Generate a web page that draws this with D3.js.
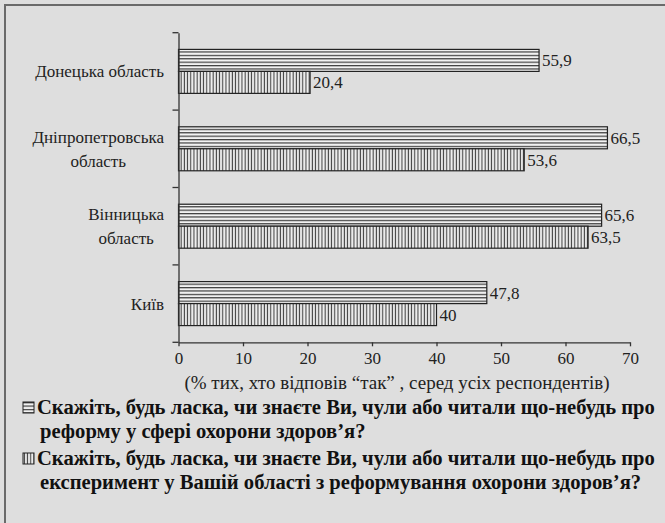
<html>
<head>
<meta charset="utf-8">
<script src="https://cdn.jsdelivr.net/npm/d3@7"></script>
</head>
<body style="margin:0;background:#dedede">
<svg width="665" height="523" style="display:block"></svg>
<script>
// categories (top to bottom) and the two survey questions
const regions = [
  ['Донецька область'],
  ['Дніпропетровська', 'область'],
  ['Вінницька', 'область'],
  ['Київ']
];
const reformKnown = [55.9, 66.5, 65.6, 47.8];
const experimentKnown = [20.4, 53.6, 63.5, 40];
const xTicks = [0, 10, 20, 30, 40, 50, 60, 70];
const axisTitle = '(% тих, хто відповів “так” , серед усіх респондентів)';
const legendText = [
  ['Скажіть, будь ласка, чи знаєте Ви, чули або читали що-небудь про', 'реформу у сфері охорони здоров’я?'],
  ['Скажіть, будь ласка, чи знаєте Ви, чули або читали що-небудь про', 'експеримент у Вашій області з реформування охорони здоров’я?']
];

const svg = d3.select('svg');
const serif = "'Liberation Serif', 'Times New Roman', monospace";

// scale a text's font so its first line spans the wanted width
function fitFont(sel, base, width) {
  sel.style('font-size', base + 'px');
  const node = sel.select('tspan').node() || sel.node();
  const w = node.getComputedTextLength();
  if (w > 0) sel.style('font-size', (base * width / w).toFixed(2) + 'px');
}

// frame: only top and left edge are visible
svg.append('rect').attr('width', 665).attr('height', 523).attr('fill', '#dedede');
svg.append('path').attr('d', 'M5,530V5H670').attr('fill', 'none').attr('stroke', '#6a6a6a').attr('stroke-width', 2);

// hatch patterns
const defs = svg.append('defs');
const hp = defs.append('pattern').attr('id', 'horiz').attr('patternUnits', 'userSpaceOnUse')
  .attr('width', 6).attr('height', 3.4);
hp.append('rect').attr('width', 6).attr('height', 3.4).attr('fill', '#f2f2f2');
hp.append('rect').attr('y', 1.7).attr('width', 6).attr('height', 1.2).attr('fill', '#3a3a3a');
const vp = defs.append('pattern').attr('id', 'vert').attr('patternUnits', 'userSpaceOnUse')
  .attr('width', 3.2).attr('height', 6);
vp.append('rect').attr('width', 3.2).attr('height', 6).attr('fill', '#f2f2f2');
vp.append('rect').attr('x', 1.4).attr('width', 1.1).attr('height', 6).attr('fill', '#3a3a3a');

const plotLeft = 178.5, plotRight = 630, plotTop = 32.7, plotBottom = 342.3;

const x = d3.scaleLinear().domain([0, 70]).range([plotLeft, plotRight]);
const y0 = d3.scaleBand().domain(d3.range(regions.length)).range([plotTop, plotBottom]);
const y1 = d3.scaleBand().domain(['reform', 'experiment'])
  .range([0, y0.bandwidth()]).paddingOuter(0.76);

const rows = regions.map((r, i) => ({
  i,
  label: r,
  values: [
    { key: 'reform', v: reformKnown[i], fill: 'url(#horiz)' },
    { key: 'experiment', v: experimentKnown[i], fill: 'url(#vert)' }
  ]
}));

const g = svg.selectAll('g.row').data(rows).enter().append('g')
  .attr('class', 'row')
  .attr('transform', d => `translate(0,${y0(d.i)})`);

g.selectAll('rect').data(d => d.values).enter().append('rect')
  .attr('x', x(0))
  .attr('y', d => y1(d.key))
  .attr('width', d => x(d.v) - x(0))
  .attr('height', y1.bandwidth())
  .attr('fill', d => d.fill)
  .attr('stroke', '#222')
  .attr('stroke-width', 1.2);

g.selectAll('text.val').data(d => d.values).enter().append('text')
  .attr('class', 'val')
  .attr('x', d => x(d.v) + 3)
  .attr('y', d => y1(d.key) + y1.bandwidth() / 2)
  .attr('dy', '0.35em')
  .style('font-family', serif)
  .attr('font-size', 17)
  .attr('fill', '#222')
  .text(d => String(d.v).replace('.', ','));

// category labels: block right-aligned, lines centred within block
g.each(function (d) {
  const lbl = d3.select(this).append('text')
    .style('font-family', serif).attr('font-size', 17).attr('fill', '#222')
    .attr('text-anchor', 'middle');
  const n = d.label.length;
  const spans = lbl.selectAll('tspan').data(d.label).enter().append('tspan')
    .attr('y', (t, k) => y0.bandwidth() / 2 + (k - (n - 1) / 2) * 24)
    .attr('dy', '0.35em')
    .text(t => t);
  let w = 0;
  spans.each(function () { w = Math.max(w, this.getComputedTextLength()); });
  spans.attr('x', 164 - w / 2);
});

// axes
const yAxis = d3.axisLeft(y0).tickValues([]).tickSizeOuter(0);
svg.append('g').attr('transform', `translate(${plotLeft},0)`).call(yAxis)
  .call(s => s.select('.domain').attr('stroke', '#333').attr('stroke-width', 1.3));
svg.selectAll('.ytick').data(d3.range(regions.length + 1)).enter().append('line')
  .attr('class', 'ytick')
  .attr('x1', plotLeft - 6).attr('x2', plotLeft)
  .attr('y1', i => i < regions.length ? y0(i) : plotBottom)
  .attr('y2', i => i < regions.length ? y0(i) : plotBottom)
  .attr('stroke', '#333').attr('stroke-width', 1.3);

const xAxis = d3.axisBottom(x).tickValues(xTicks).tickSize(4).tickSizeOuter(0).tickPadding(6);
svg.append('g').attr('transform', `translate(0,${plotBottom})`).call(xAxis)
  .attr('font-family', null)
  .call(s => s.select('.domain').attr('stroke', '#333').attr('stroke-width', 1.3))
  .call(s => s.selectAll('.tick line').attr('stroke', '#333').attr('stroke-width', 1.3))
  .call(s => s.selectAll('.tick text').style('font-family', serif).attr('font-size', 17).attr('fill', '#222'));

const title = svg.append('text')
  .attr('x', 397).attr('y', 389)
  .attr('text-anchor', 'middle')
  .style('font-family', serif).attr('fill', '#222')
  .text(axisTitle);
fitFont(title, 16, 425);

// legend
const legY = [414, 465];
const legend = svg.selectAll('g.leg').data(legendText).enter().append('g')
  .attr('class', 'leg')
  .attr('transform', (d, i) => `translate(0,${legY[i]})`);
legend.append('rect')
  .attr('x', 23).attr('y', -12).attr('width', 11).attr('height', 11)
  .attr('fill', (d, i) => i === 0 ? 'url(#horiz)' : 'url(#vert)')
  .attr('stroke', '#222').attr('stroke-width', 1);
legend.append('text')
  .style('font-family', serif).attr('font-weight', 'bold').attr('fill', '#111')
  .selectAll('tspan').data(d => d).enter().append('tspan')
  .attr('x', (t, k) => k === 0 ? 37 : 40)
  .attr('y', (t, k) => k * 24)
  .text(t => t);
legend.selectAll('text').each(function () { fitFont(d3.select(this), 18, 618); });
</script>
</body>
</html>
